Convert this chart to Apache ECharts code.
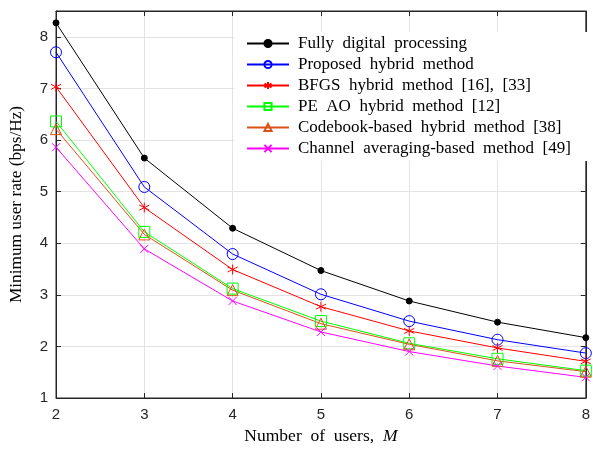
<!DOCTYPE html>
<html><head><meta charset="utf-8">
<script src="https://cdn.jsdelivr.net/npm/echarts@6/dist/echarts.min.js"></script>
<style>html,body{margin:0;padding:0;background:#fff}#c{width:593px;height:450px}</style>
</head><body><div id="c"></div>
<script>
const users = [2, 3, 4, 5, 6, 7, 8];
const fullyDigital = [8.27, 5.65, 4.29, 3.47, 2.88, 2.47, 2.17];
const proposed = [7.70, 5.09, 3.79, 3.01, 2.49, 2.13, 1.87];
const bfgs = [7.03, 4.69, 3.49, 2.77, 2.30, 1.97, 1.71];
const peAO = [6.36, 4.22, 3.12, 2.49, 2.06, 1.76, 1.53];
const codebook = [6.21, 4.17, 3.09, 2.44, 2.04, 1.72, 1.51];
const channelAvg = [5.86, 3.89, 2.88, 2.28, 1.90, 1.62, 1.40];
const names = ['Fully digital processing', 'Proposed hybrid method', 'BFGS hybrid method [16], [33]',
  'PE AO hybrid method [12]', 'Codebook-based hybrid method [38]', 'Channel averaging-based method [49]'];

const pair = arr => users.map((u, i) => [u, arr[i]]);
const asterisk = 'path://M0,-5L0,5M-4.33,-2.5L4.33,2.5M-4.33,2.5L4.33,-2.5';
const cross = 'path://M-4,-4L4,4M-4,4L4,-4';
const triangle = 'path://M0,-5L5.2,4L-5.2,4Z';
const wide = s => s.replace(/ /g, '\u2002');

function mk(name, data, color, symbol, size, filled) {
  return {
    name, type: 'line', data: pair(data), color,
    symbol, symbolSize: size,
    lineStyle: { color, width: 1 },
    itemStyle: { color: filled ? color : (symbol.startsWith('path') && !symbol.includes('Z') ? color : 'rgba(0,0,0,0)'), borderColor: color, borderWidth: 1 },
    emphasis: { disabled: true }, animation: false, z: 3
  };
}

const chart = echarts.init(document.getElementById('c'));
const serif = '"Liberation Serif","DejaVu Serif",serif';
const sans = '"Liberation Sans",Arial,sans-serif';
chart.setOption({
  animation: false,
  backgroundColor: '#fff',
  grid: { left: 52, right: 4, top: 11, bottom: 49, show: true, borderColor: '#262626', borderWidth: 1 },
  legend: {
    left: 234, top: 32, orient: 'vertical',
    itemWidth: 42, itemHeight: 9, itemGap: 4,
    padding: [3, 18, 4, 12],
    backgroundColor: '#fff',
    formatter: wide,
    textStyle: { fontFamily: serif, fontSize: 17, color: '#000', lineHeight: 16, padding: [0, 0, 0, 4] },
    data: names
  },
  xAxis: [{
    type: 'value', min: 2, max: 8, interval: 1,
    name: '{a|' + wide('Number of users, ') + '}{b|M}', nameLocation: 'middle', nameGap: 29,
    nameTextStyle: { rich: { a: { fontFamily: serif, fontSize: 17.5, color: '#000' }, b: { fontFamily: serif, fontSize: 17.5, fontStyle: 'italic', color: '#000' } } },
    axisLine: { show: true, lineStyle: { color: '#262626' } },
    axisTick: { show: true, inside: true, length: 5, lineStyle: { color: '#262626' } },
    axisLabel: { fontFamily: sans, fontSize: 15, color: '#262626', margin: 9 },
    splitLine: { show: true, lineStyle: { color: '#e3e3e3' } }
  }, {
    type: 'value', min: 2, max: 8, interval: 1, position: 'top',
    axisLine: { show: true, lineStyle: { color: '#262626' } },
    axisTick: { show: true, inside: true, length: 5, lineStyle: { color: '#262626' } },
    axisLabel: { show: false }, splitLine: { show: false }
  }],
  yAxis: [{
    type: 'value', min: 1, max: 8.5, interval: 1,
    name: 'Minimum user rate (bps/Hz)', nameLocation: 'middle', nameGap: 31,
    nameTextStyle: { fontFamily: serif, fontSize: 17.3, color: '#000' },
    axisLine: { show: true, lineStyle: { color: '#262626' } },
    axisTick: { show: true, inside: true, length: 5, lineStyle: { color: '#262626' } },
    axisLabel: { fontFamily: sans, fontSize: 15, color: '#262626', margin: 8,
      formatter: v => Number.isInteger(v) ? String(v) : '' },
    splitLine: { show: true, lineStyle: { color: '#e3e3e3' } }
  }, {
    type: 'value', min: 1, max: 8.5, interval: 1, position: 'right',
    axisLine: { show: true, lineStyle: { color: '#262626' } },
    axisTick: { show: true, inside: true, length: 5, lineStyle: { color: '#262626' } },
    axisLabel: { show: false }, splitLine: { show: false }
  }],
  series: [
    mk(names[0], fullyDigital, '#000000', 'circle', 6, true),
    mk(names[1], proposed, '#0000ff', 'circle', 11, false),
    mk(names[2], bfgs, '#ff0000', asterisk, 10, false),
    mk(names[3], peAO, '#00ff00', 'rect', 11, false),
    mk(names[4], codebook, '#d95319', triangle, 11, false),
    mk(names[5], channelAvg, '#ff00ff', cross, 8, false)
  ]
});
</script></body></html>
